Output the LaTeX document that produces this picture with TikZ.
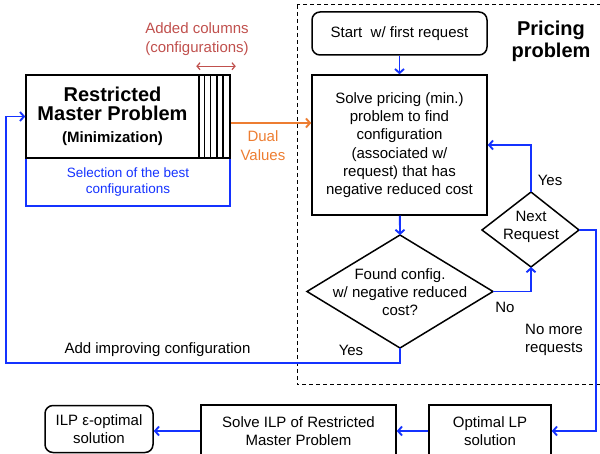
\documentclass[tikz,border=0pt]{standalone}
\usepackage{fontspec}
\setmainfont{Liberation Sans}
\usetikzlibrary{positioning,calc,arrows.meta}

\definecolor{flowblue}{RGB}{20,50,255}
\definecolor{dualorange}{RGB}{237,125,49}
\definecolor{colred}{RGB}{192,80,77}

\begin{document}
\begin{tikzpicture}[x=1pt,y=-1pt]
\tikzset{box/.style={draw,line width=1.5pt,align=center,inner sep=0pt,font=\fontsize{15}{18.3}\selectfont},
  rbox/.style={box,rounded corners=8pt},
  txt/.style={align=center,inner sep=0pt,font=\fontsize{15}{18.3}\selectfont},
  flow/.style={draw=flowblue,line width=1.9pt,-{Straight Barb[length=4pt,width=9pt]}}};
\useasboundingbox (0,0) rectangle (600,454);
\clip (0,0) rectangle (600,454);

   % master problem side
   \node[box,draw=flowblue,text=flowblue,font=\fontsize{13.5}{16.5}\selectfont,minimum width=204pt,minimum height=48pt] at (128,182) (sel) {Selection of the best\\configurations};
   \node[box,fill=white,minimum width=173pt,minimum height=83pt] at (112.5,116.5) (rmp) {{\fontsize{20}{22}\selectfont\bfseries Restricted}\\[1pt]{\fontsize{20}{22}\selectfont\bfseries Master Problem}\\[4pt]{\fontsize{15}{18}\selectfont\bfseries (Minimization)}};
   \node[box,minimum width=31pt,minimum height=83pt] at (214.5,116.5) (cols) {};
   \foreach \i in {1,...,4}
      \draw[line width=1.5pt] ($(cols.north west)+(\i*6.2,0)$) -- ($(cols.south west)+(\i*6.2,0)$);

   \node[txt,text=colred] at (197,39) (addcol) {Added columns\\(configurations)};
   \coordinate (ca) at ($(cols.north west)+(-2,-8)$);
   \coordinate (cb) at ($(cols.north east)+(5,-8)$);
   \draw[colred,line width=1.2pt,{Straight Barb[length=3pt,width=7pt]}-{Straight Barb[length=3pt,width=7pt]}] (ca) -- (cb);

   % pricing problem
   \draw[line width=1pt,dash pattern=on 4pt off 3pt] (297,5) rectangle (615,385);
   \node[txt,font=\fontsize{20}{22}\selectfont\bfseries] at (551,41) (ptitle) {Pricing\\problem};

   \node[rbox,minimum width=175pt,minimum height=43pt] at (399.5,33.5) (start) {Start\ \ w/ first request};
   \node[box,minimum width=175pt,minimum height=140pt] at (399.5,145) (solve) {Solve pricing (min.)\\problem to find\\configuration\\(associated w/\\request) that has\\negative reduced cost};

   \node[txt] at (400,292) (found) {Found config.\\w/ negative reduced\\cost?};
   \draw[line width=1.5pt] (400,235) coordinate (fN) -- (493,291.5) coordinate (fE) -- (400,348) coordinate (fS) -- (307,291.5) coordinate (fW) -- cycle;

   \node[txt] at (531,227) (next) {Next\\Request};
   \draw[line width=1.5pt] (531,192) coordinate (nN) -- (579,230) coordinate (nE) -- (531,267) coordinate (nS) -- (482,230) coordinate (nW) -- cycle;

   % final steps
   \node[box,minimum width=122pt,minimum height=52pt] at (490,431) (optlp) {Optimal LP\\solution};
   \node[box,minimum width=195pt,minimum height=52pt] at (298.5,431) (ilp) {Solve ILP of Restricted\\Master Problem};
   \node[rbox,minimum width=108pt,minimum height=47pt] at (99,429) (eps) {ILP ε-optimal\\solution};

   \draw[dualorange,line width=1.9pt,-{Straight Barb[length=4pt,width=9pt]}] ($(cols.east)+(0,6.5)$) coordinate (d0) -- (d0 -| solve.west)
      node[pos=0.4,below=7pt,txt,text=dualorange] (dual) {Dual\\Values};

   \draw[flow] (start) -- (solve);
   \draw[flow] (solve) -- (fN);
   \draw[flow] (fE) -| (nS);
   \draw[flow] (nN) |- (solve.east);
   \coordinate (rr) at (596,230);
   \draw[flow] (nE) -- (rr) |- (optlp.east);
   \draw[flow] (optlp) -- (ilp);
   \draw[flow] (ilp.west) -- (ilp.west -| eps.east);
   \coordinate (lb) at (6,363);
   \draw[flow] (fS) |- (lb) |- (rmp.west);

   \node[txt] at (351,350) (yes1) {Yes};
   \node[txt] at (157.5,350) (addimp) {Add improving configuration};
   \node[txt] at (550,180) (yes2) {Yes};
   \node[txt] at (505,307) (no1) {No};
   \node[txt] at (554,340) (nomore) {No more\\requests};

\end{tikzpicture}
\end{document}
